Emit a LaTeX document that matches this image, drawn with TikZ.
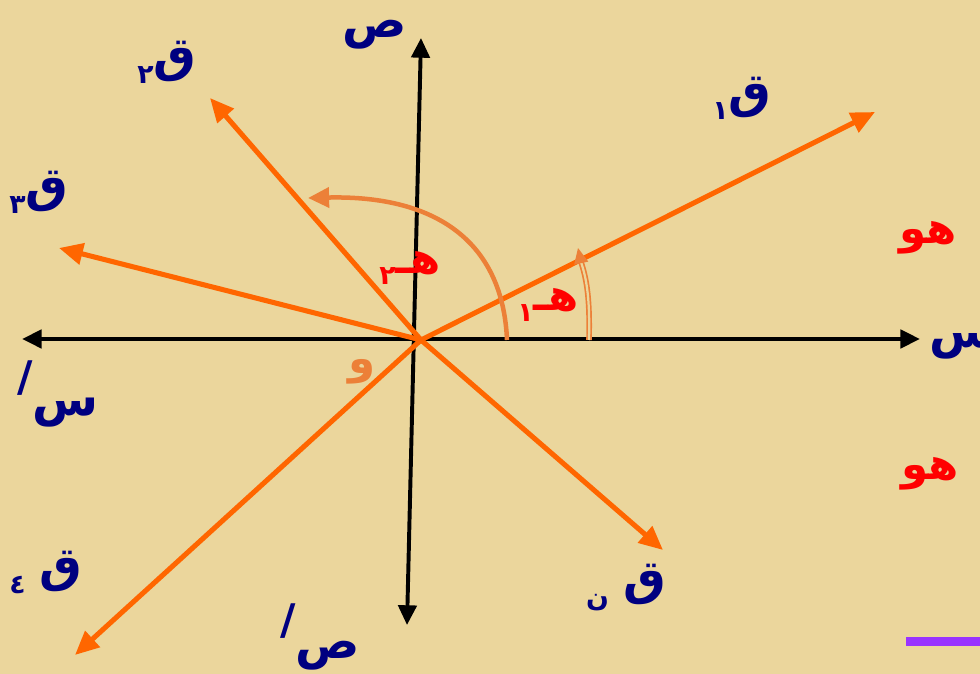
\documentclass[tikz,border=0pt]{standalone}
\usepackage{fontspec}
\usepackage{tikz}
\usetikzlibrary{arrows.meta}
\usepackage{tkz-euclide}
\newfontfamily\arabicfont[Script=Arabic]{DejaVu Sans}
\TeXXeTstate=1
\definecolor{papyrus}{RGB}{235,214,156}
\definecolor{navy}{RGB}{0,0,128}
\definecolor{vecorange}{RGB}{255,102,0}
\definecolor{arcorange}{RGB}{236,128,56}
\definecolor{barviolet}{RGB}{153,51,255}
\newcommand{\arlab}[1]{\arabicfont\bfseries\beginR #1\endR}
\newcommand{\sublab}[2]{\arabicfont\bfseries\beginR #1\raisebox{-0.25em}{\fontsize{19}{19}\selectfont #2}\endR}
\newcommand{\primelab}{\raisebox{0.5em}{\fontsize{30}{30}\selectfont\arabicfont\bfseries /}}

\begin{document}
\begin{tikzpicture}[x=0.025cm, y=-0.025cm,
        axis/.style={line width=2.8pt, {Triangle[length=14pt,width=13pt]}-{Triangle[length=14pt,width=13pt]}},
        vec/.style={vecorange, line width=3.6pt, -{Triangle[length=17pt,width=15pt]}},
        lbl/.style={navy, font=\fontsize{34}{38}\selectfont, inner sep=0pt},
        anglbl/.style={red, font=\fontsize{31}{35}\selectfont, inner sep=0pt}]
                \useasboundingbox (0,0) rectangle (980,674);
                \fill[papyrus] (0,0) rectangle (980,674);
                \clip (0,0) rectangle (980,674);
                \tkzDefPoints{421/340/O, 22/339/Xm, 920/339/X, 407/625/Ym, 421/38/Y}
                \tkzDefPoints{875/112/Q_1, 210/98/Q_2, 59/248/Q_3, 75/655/Q_4, 663/550/Q_n}
                \tkzDefPoints{507/340/A_2, 308/198/B_2, 589/340/A_1, 581/262/C_1, 578/248/B_1}
                \draw[axis] (Xm) -- (X);
                \draw[axis] (Ym) -- (Y);
                \draw[vec] (O) -- (Q_1);
                \draw[vec] (O) -- (Q_2);
                \draw[vec] (O) -- (Q_3);
                \draw[vec] (O) -- (Q_4);
                \draw[vec] (O) -- (Q_n);
                \draw[arcorange, line width=3.2pt, -{Triangle[length=15pt,width=14pt]}] (A_2) .. controls (503,245) and (440,195) .. (B_2);
                \draw[arcorange, line width=1.2pt, double=papyrus, double distance=1.6pt] (A_1) .. controls (590,300) and (587,280) .. (C_1);
                \draw[arcorange, line width=1pt, -{Triangle[length=11pt,width=10pt]}] (C_1) -- (B_1);
                \fill[barviolet] (906,637) rectangle (980,646);
                \node[lbl] (lY) at (375,35) {\arlab{ص}};
                \node[lbl] (lYm) at (320,637) {\primelab\arlab{ص}};
                \node[lbl] (lX) at (962,345) {\arlab{س}};
                \node[lbl] (lXm) at (58,394) {\primelab\arlab{س}};
                \node[lbl] (lQ1) at (742,98) {\sublab{ق}{١}};
                \node[lbl] (lQ2) at (167,62) {\sublab{ق}{٢}};
                \node[lbl] (lQ3) at (39,192) {\sublab{ق}{٣}};
                \node[lbl] (lQ4) at (46,572) {\sublab{ق\hspace{10pt}}{٤}};
                \node[lbl] (lQn) at (626,588) {\sublab{ق\hspace{10pt}}{ن}};
                \node[anglbl] (lH2) at (410,268) {\sublab{هـ}{٢}};
                \node[anglbl] (lH1) at (548,305) {\sublab{هـ}{١}};
                \node[anglbl, arcorange] (lO) at (362,372) {\arlab{و}};
                \node[anglbl] (lHo1) at (928,238) {\arlab{هو}};
                \node[anglbl] (lHo2) at (930,474) {\arlab{هو}};
            \end{tikzpicture}
\end{document}
